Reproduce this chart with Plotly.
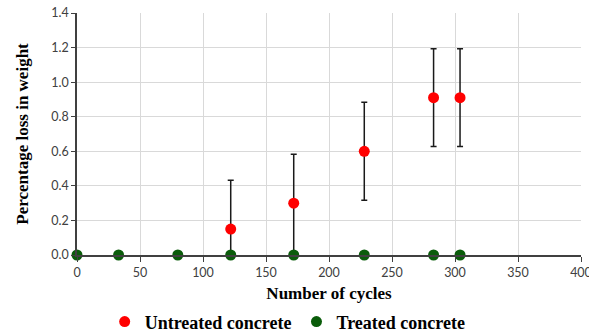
import plotly.graph_objects as go

cycles_untreated = [122, 172, 228, 283, 304]
loss_untreated = [0.15, 0.30, 0.60, 0.91, 0.91]
err_untreated = [0.283, 0.283, 0.283, 0.283, 0.283]

cycles_treated = [0, 33, 80, 122, 172, 228, 283, 304]
loss_treated = [0, 0, 0, 0, 0, 0, 0, 0]

x_ticks = [0, 50, 100, 150, 200, 250, 300, 350, 400]
y_ticks = [0.0, 0.2, 0.4, 0.6, 0.8, 1.0, 1.2, 1.4]

fig = go.Figure()
fig.add_trace(go.Scatter(
    x=cycles_untreated, y=loss_untreated, mode="markers",
    name="Untreated concrete",
    marker=dict(color="#ff0000", size=11),
    error_y=dict(type="data", array=err_untreated, color="#1a1a1a", thickness=1.5, width=3),
))
fig.add_trace(go.Scatter(
    x=cycles_treated, y=loss_treated, mode="markers",
    name="Treated concrete",
    marker=dict(color="#0a5c0a", size=11),
    cliponaxis=False,
))

title_font = dict(family="Liberation Serif", size=17, color="black", weight="bold")

fig.update_layout(
    width=589, height=336,
    margin=dict(l=77, r=8, t=13, b=81, autoexpand=False),
    paper_bgcolor="white", plot_bgcolor="white",
    font=dict(family="Lato, Liberation Sans, sans-serif", size=12.5, color="#404040"),
    showlegend=True,
    legend=dict(orientation="h", x=0.418, xanchor="center",
                yref="container", y=0.042, yanchor="middle",
                font=dict(family="Liberation Serif", size=18, color="black", weight="bold"),
                itemwidth=30, tracegroupgap=0),
    xaxis=dict(range=[0, 400], tickvals=x_ticks, ticks="outside", ticklen=5,
               tickcolor="#404040", showgrid=True, gridcolor="#d9d9d9", gridwidth=1,
               showline=True, linecolor="#404040", linewidth=1.5, zeroline=False,
               automargin=False, ticklabeloverflow="allow",
               title=dict(text="Number of cycles", standoff=16, font=title_font)),
    yaxis=dict(range=[0, 1.4], tickvals=y_ticks, tickformat=".1f", ticks="outside", ticklen=4,
               tickcolor="#404040", showgrid=True, gridcolor="#d9d9d9", gridwidth=1,
               showline=True, linecolor="#404040", linewidth=1.5, zeroline=False,
               automargin=False, ticklabeloverflow="allow",
               title=dict(text="Percentage loss in weight", standoff=18, font=title_font)),
)

fig.write_html("out.html", config={"displayModeBar": False},
               post_script="document.body.style.margin='0';")
